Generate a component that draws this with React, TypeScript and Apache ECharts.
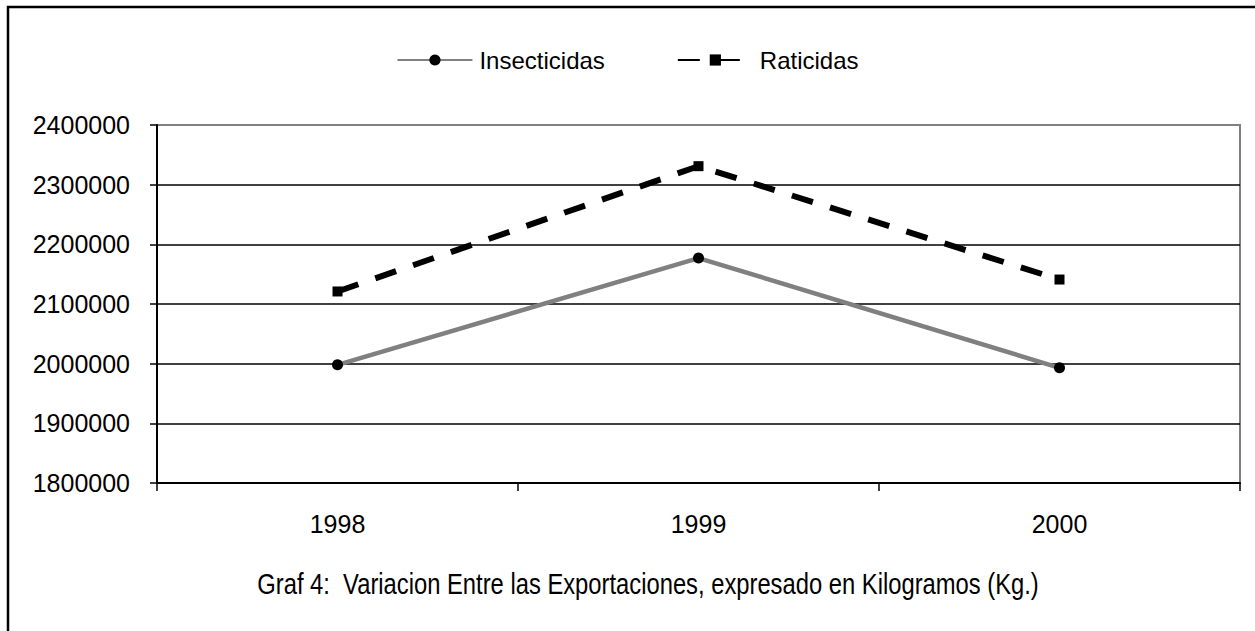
import React, { useEffect, useRef } from "react";
import * as echarts from "echarts";

const categories = ["1998", "1999", "2000"];
const insecticidas = [1998000, 2177000, 1993000];
const raticidas = [2121000, 2331000, 2141000];
const yMin = 1800000;
const yMax = 2400000;
const yStep = 100000;
const caption = "Graf 4:  Variacion Entre las Exportaciones, expresado en Kilogramos (Kg.)";

export default function App() {
  const ref = useRef<HTMLDivElement>(null);
  useEffect(() => {
    const chart = echarts.init(ref.current!, null, { renderer: "svg" });
    const font = "'Liberation Sans', Arial, sans-serif";
    chart.setOption({
      animation: false,
      backgroundColor: "#ffffff",
      legend: {
        top: 43,
        left: "center",
        itemWidth: 75,
        itemHeight: 14,
        itemGap: 72,
        textStyle: { fontFamily: font, fontSize: 24, color: "#000", padding: [0, 0, 0, 2] },
        data: ["Insecticidas", "Raticidas"],
      },
      grid: {
        left: 157,
        top: 125,
        right: 15,
        bottom: 148,
        show: true,
        borderColor: "#808080",
        borderWidth: 2,
        backgroundColor: "transparent",
      },
      xAxis: {
        type: "category",
        data: categories,
        boundaryGap: true,
        axisLine: { lineStyle: { color: "#000", width: 2 } },
        axisTick: { show: true, length: 8, lineStyle: { color: "#000", width: 1.5 } },
        axisLabel: { fontFamily: font, fontSize: 25, color: "#000", margin: 28 },
      },
      yAxis: {
        type: "value",
        min: yMin,
        max: yMax,
        interval: yStep,
        axisLine: { show: true, lineStyle: { color: "#000", width: 2 } },
        axisTick: { show: true, length: 7, lineStyle: { color: "#000", width: 1.5 } },
        axisLabel: {
          fontFamily: font,
          fontSize: 25,
          color: "#000",
          margin: 27,
          formatter: (v: number) => String(v),
        },
        splitLine: { show: true, showMaxLine: false, lineStyle: { color: "#000", width: 1.5 } },
      },
      series: [
        {
          name: "Insecticidas",
          type: "line",
          data: insecticidas,
          symbol: "circle",
          symbolSize: 11,
          itemStyle: { color: "#000" },
          lineStyle: { color: "#808080", width: 4.5 },
          z: 3,
        },
        {
          name: "Raticidas",
          type: "line",
          data: raticidas,
          symbol: "rect",
          symbolSize: 10,
          itemStyle: { color: "#000" },
          lineStyle: { color: "#000", width: 6, type: [22, 18] },
          z: 4,
        },
      ],
      graphic: [
        {
          type: "rect",
          shape: { x: 8, y: 7, width: 1400, height: 800 },
          style: { fill: "none", stroke: "#000", lineWidth: 2.5 },
          silent: true,
        },
        {
          type: "text",
          x: 648,
          y: 584,
          scaleX: 0.82,
          style: {
            text: caption,
            fontFamily: font,
            fontSize: 29,
            fill: "#000",
            align: "center",
            verticalAlign: "middle",
          },
        },
      ],
    });
    return () => chart.dispose();
  }, []);
  return (
    <div
      ref={ref}
      style={{ position: "fixed", left: 0, top: 0, width: 1255, height: 631 }}
    />
  );
}
